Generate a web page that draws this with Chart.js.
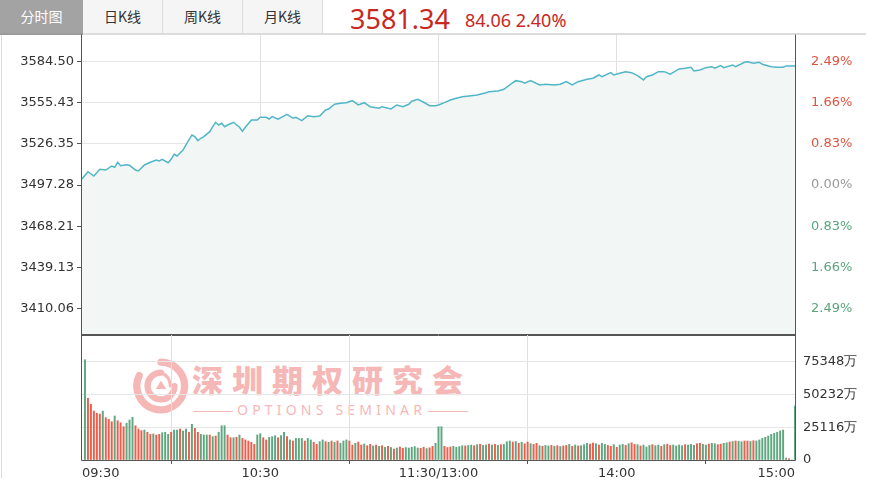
<!DOCTYPE html>
<html><head><meta charset="utf-8">
<script src="https://cdn.jsdelivr.net/npm/chart.js@4.4.1/dist/chart.umd.min.js"></script>
<style>
html,body{margin:0;padding:0;background:#fff;}
body{width:879px;height:500px;position:relative;overflow:hidden;font-family:"DejaVu Sans",sans-serif;}
.tab{position:absolute;top:0;height:33px;line-height:33px;text-align:center;font-family:"Noto Sans CJK SC",sans-serif;font-size:14px;color:#333;background:#f5f5f5;border-right:1px solid #dcdcdc;box-sizing:border-box;}
.tab.active{background:#a3a3a3;color:#fff;border-right:none;}
#bar{position:absolute;left:0;top:33px;width:866px;height:2px;background:#dcdcdc;}
#bar2{position:absolute;left:0;top:33px;width:83px;height:2px;background:#9a9a9a;}
#frame{position:absolute;left:1px;top:35px;width:1px;height:443px;background:#dcdcdc;}
#price{position:absolute;left:350px;top:0px;font-family:"Noto Sans",sans-serif;font-size:27px;line-height:38px;color:#c8281e;}
#chg{position:absolute;left:465px;top:7px;font-family:"Noto Sans",sans-serif;font-size:18px;line-height:26px;color:#c8281e;}
canvas{position:absolute;left:0;}
#cp{top:25px;z-index:2;}
#cv{top:325px;z-index:2;}
#wm{position:absolute;left:0;top:0;z-index:1;}
#wmT{position:absolute;left:192px;top:361px;font-family:"Noto Sans CJK SC",sans-serif;font-weight:900;font-size:31px;letter-spacing:9px;color:#f6b7b7;white-space:nowrap;line-height:36px;}
#wmS{position:absolute;left:193px;top:401px;font-family:"Noto Sans",sans-serif;font-size:14px;letter-spacing:4.2px;color:#f6b7b7;white-space:nowrap;line-height:18px;}
#wmS span.l{display:inline-block;width:40px;height:1.5px;background:#f6b7b7;vertical-align:middle;margin:0 4px 0 0;}
#wmS span.r{display:inline-block;width:40px;height:1.5px;background:#f6b7b7;vertical-align:middle;margin:0 0 0 2px;}
#logo{position:absolute;left:133px;top:358px;}
</style></head>
<body>
<div class="tab active" style="left:0;width:83px;">分时图</div>
<div class="tab" style="left:83px;width:80px;">日K线</div>
<div class="tab" style="left:163px;width:80px;">周K线</div>
<div class="tab" style="left:243px;width:80px;">月K线</div>
<div id="bar"></div><div id="bar2"></div><div id="frame"></div>
<div id="price"></div>
<div id="chg"></div>
<div id="wm">
<svg id="logo" width="56" height="56" viewBox="0 0 54 54">
  <g fill="none" stroke="#f6b7b7" stroke-linecap="round">
    <path d="M 27 4 A 23 23 0 1 1 6 17" stroke-width="7"/>
    <path d="M 40 27 A 13 13 0 1 1 27 14" stroke-width="6"/>
    <path d="M 27 14 Q 36 18 36 27" stroke-width="3"/>
  </g>
  <path d="M 27 22 L 32 30 L 22 30 Z" fill="#f6b7b7"/>
</svg>
<div id="wmT">深圳期权研究会</div>
<div id="wmS"><span class="l"></span>OPTIONS SEMINAR<span class="r"></span></div>
</div>
<canvas id="cp" width="879" height="320"></canvas>
<canvas id="cv" width="879" height="160"></canvas>
<script>
const prevClose = 3497.28;
const lastPrice = 3581.34;
const change = 84.06;
const changePct = '2.40%';

const timeTickMinutes = [0, 60, 120, 180, 240];
const timeLabels = ['09:30', '10:30', '11:30/13:00', '14:00', '15:00'];

const priceTicks = [3410.06, 3439.13, 3468.21, 3497.28, 3526.35, 3555.43, 3584.50];
const pctLabels = ['2.49%', '1.66%', '0.83%', '0.00%', '0.83%', '1.66%', '2.49%'];

const priceMinutes = [0,2,4,6,8,10,11,12,13,15,16,18,19,21,23,25,26,27,29,30,31,32,34,35,36,37,38,39,40,41,43,44,45,46,47,48,49,51,53,54,55,57,59,60,62,63,64,66,69,71,72,74,76,78,80,82,83,85,87,89,91,93,95,97,100,101,104,106,108,110,111,113,115,117,119,120,122,124,126,128,131,133,136,137,140,142,144,146,148,149,151,154,156,159,161,163,165,167,170,172,174,175,178,179,181,183,185,187,189,190,192,194,196,198,201,203,205,206,208,210,212,213,215,216,219,220,223,224,226,228,229,232,234,236,237,239,240];
const prices = [3501.50,3506.67,3503.64,3508.37,3507.87,3510.70,3509.78,3513.31,3510.91,3511.62,3511.19,3507.87,3507.17,3511.40,3513.31,3514.94,3514.23,3515.43,3513.03,3515.43,3518.96,3517.76,3522.00,3525.53,3529.06,3532.59,3531.39,3528.56,3530.26,3531.39,3534.92,3538.45,3541.56,3539.65,3540.85,3538.45,3539.65,3541.56,3538.03,3535.20,3538.03,3543.18,3543.18,3545.09,3545.09,3543.89,3545.51,3543.68,3547.21,3544.38,3545.09,3542.69,3546.22,3545.51,3546.01,3550.25,3550.95,3554.27,3554.98,3555.40,3556.81,3553.78,3555.40,3552.57,3551.45,3552.57,3550.95,3553.78,3552.57,3554.27,3556.39,3557.80,3555.68,3553.28,3553.28,3553.80,3555.40,3557.31,3558.51,3559.64,3560.34,3560.84,3562.46,3563.17,3563.66,3564.86,3567.90,3570.94,3570.23,3569.10,3570.94,3567.90,3568.39,3567.90,3568.39,3570.23,3567.90,3570.23,3571.93,3572.63,3574.96,3573.76,3576.59,3574.96,3576.16,3577.29,3576.59,3574.47,3571.43,3573.76,3574.96,3577.29,3577.29,3575.46,3579.20,3579.69,3580.40,3577.79,3578.49,3580.12,3580.82,3579.69,3581.53,3580.12,3582.02,3580.82,3583.93,3584.35,3583.22,3583.93,3582.52,3580.82,3580.40,3580.40,3581.34,3581.34,3581.34];

const volTicks = [0, 25116, 50232, 75348];
const volumes = [
77000,47400,42800,37600,35900,35300,37600,32500,31200,29400,
33800,30200,28600,25600,28200,30700,32800,26300,23800,22500,
23000,21300,19700,20000,19200,19700,21000,21300,19700,21300,
23000,23000,23800,22300,23800,21300,27400,24300,21300,19700,
19200,19200,19200,17900,18400,21300,26300,26300,19200,17100,
17100,17400,19200,16600,15400,14600,13600,12000,19200,20200,
17100,15400,17400,17900,18700,17100,18700,21300,17900,15400,
14600,16600,16600,16600,14600,16600,15400,13600,12000,14100,
15400,14100,13600,14600,13600,14600,12800,14600,15400,14600,
11500,12800,13800,11500,12300,11000,12000,10800,11500,10500,
11000,9800,10500,9600,8400,9200,10000,9000,9600,9200,
9800,10300,9200,9000,9800,8800,9400,10500,12800,25600,
25600,10500,9600,10000,10500,9800,10300,11000,10800,11200,
11500,11000,11800,12000,11200,11500,12300,11500,12000,11200,
11800,12000,14000,14600,13800,14200,12800,13600,12500,13800,
12500,12000,12800,11000,10500,11200,10800,11200,10600,11000,
10400,10800,11200,12000,10500,11500,10800,11000,11800,12800,
12200,13000,12500,11500,12800,12000,11200,10500,11800,9800,
11500,12000,11200,12500,13200,12000,11800,10800,11500,10000,
11200,11800,11000,11500,10500,11800,12200,11200,11500,10800,
11500,11000,11800,11500,12000,11200,12500,12800,12000,11500,
12300,12800,12500,11800,12200,12800,13200,13800,14200,14600,
14400,14000,14600,14600,14200,14800,14600,15400,16600,17400,
18400,19700,20500,21300,22300,23000,1500,1000,0,41500];
// 1 = minute closed up (red), 0 = down (green)
const volUp = [
0,1,1,1,1,1,0,1,1,1, 0,1,1,1,0,0,0,1,1,1, 0,1,1,0,1,1,0,0,0,1, 0,0,1,0,0,1,0,1,1,0,
0,0,1,0,1,0,0,0,1,1, 0,1,0,1,1,1,1,1,0,0, 1,1,0,0,0,1,0,0,1,0, 1,0,0,0,1,0,0,1,1,0,
0,1,0,1,0,1,0,0,0,1, 1,0,1,1,0,1,1,0,1,0, 1,0,1,0,1,0,1,1,0,0, 0,0,0,1,1,0,1,1,0,0,
0,1,1,1,0,0,0,0,1,0, 0,1,0,1,0,0,1,0,1,0, 1,0,0,0,1,0,1,0,1,1, 0,1,1,0,1,0,0,1,0,1,
0,1,1,0,1,0,1,0,0,0, 1,1,0,1,0,0,1,1,0,1, 0,0,1,0,1,1,0,1,0,0, 0,1,0,0,1,0,1,1,0,0,
0,0,1,0,0,0,1,1,0,0, 1,0,0,1,1,0,0,1,0,1, 0,0,1,1,0,1,0,0,0,0, 0,0,0,0,0,0,0,1,0,0];

document.getElementById('price').textContent = lastPrice.toFixed(2);
document.getElementById('chg').textContent = change.toFixed(2) + ' ' + changePct;

const FONT = {family: 'DejaVu Sans', size: 13};
const GRID = '#e6e6e6';
const VGRID = '#e0e0e0';
const CLEAR = 'rgba(0,0,0,0)';
const span = 105.9;

function noPad(s) { s.paddingTop = 0; s.paddingBottom = 0; s.paddingLeft = 0; s.paddingRight = 0; }
const fitW = w => s => { s.width = w; noPad(s); };
const fitH = h => s => { s.height = h; noPad(s); };

const makeFrame = (drawTop) => ({
  id: 'frame',
  afterDatasetsDraw(chart) {
    const {ctx, chartArea: a} = chart;
    const l = Math.round(a.left) - 0.5, r = Math.round(a.right) + 0.5;
    const t = Math.round(a.top) - 0.5, b = Math.round(a.bottom) + 0.5;
    ctx.save();
    ctx.strokeStyle = '#555';
    ctx.lineWidth = 1;
    ctx.beginPath();
    ctx.moveTo(l, t); ctx.lineTo(l, b); ctx.lineTo(r, b); ctx.lineTo(r, t);
    if (drawTop) ctx.lineTo(l, t);
    ctx.stroke();
    ctx.restore();
  }
});
const baseLinePlugin = {
  id: 'baseLine',
  beforeDatasetsDraw(chart) {
    const {ctx, chartArea: a} = chart;
    const y = Math.round(chart.scales.y.getPixelForValue(prevClose)) + 0.5;
    ctx.save();
    ctx.strokeStyle = '#a8a8a8';
    ctx.lineWidth = 1;
    ctx.setLineDash([5, 4]);
    ctx.beginPath(); ctx.moveTo(a.left, y); ctx.lineTo(a.right, y); ctx.stroke();
    ctx.restore();
  }
};
const isEdge = v => v === 0 || v === 240;

new Chart(document.getElementById('cp'), {
  type: 'line',
  data: {datasets: [{
    data: priceMinutes.map((m, i) => ({x: m, y: prices[i]})),
    borderColor: '#52b6c9', borderWidth: 1.5, backgroundColor: '#f2f7f5',
    fill: 'start', pointRadius: 0, tension: 0
  }]},
  options: {
    responsive: false, animation: false, events: [],
    layout: {padding: {top: 10, bottom: 10, left: 0, right: 0}},
    plugins: {legend: {display: false}, tooltip: {enabled: false}},
    scales: {
      x: {type: 'linear', min: 0, max: 240,
        afterBuildTicks: s => { s.ticks = timeTickMinutes.map(v => ({value: v})); },
        ticks: {display: false},
        grid: {color: c => (c.tick && isEdge(c.tick.value)) ? CLEAR : VGRID, drawTicks: false},
        border: {display: false},
        afterFit: fitH(0)},
      y: {position: 'left', min: prevClose - span, max: prevClose + span,
        afterBuildTicks: s => { s.ticks = priceTicks.map(v => ({value: v})); },
        ticks: {callback: v => Number(v).toFixed(2), color: '#333', font: FONT, padding: 3},
        grid: {color: c => (c.tick && c.tick.value === prevClose) ? CLEAR : GRID, tickColor: '#555', tickLength: 5},
        border: {display: false},
        afterFit: fitW(82)},
      yPct: {position: 'right', min: prevClose - span, max: prevClose + span,
        afterBuildTicks: s => { s.ticks = priceTicks.map(v => ({value: v})); },
        ticks: {callback: (v, i) => pctLabels[i], font: FONT, padding: 8,
          color: c => c.tick.value > prevClose ? '#e0533f' : (c.tick.value < prevClose ? '#5aa57c' : '#9a9a9a')},
        grid: {display: false},
        border: {display: false},
        afterFit: fitW(84)}
    }
  },
  plugins: [baseLinePlugin, makeFrame(false)]
});

new Chart(document.getElementById('cv'), {
  type: 'bar',
  data: {datasets: [{
    data: volumes.map((v, i) => ({x: i + 1, y: v})),
    backgroundColor: volUp.map(u => u ? '#ea5f4d' : '#5fa781'),
    barThickness: 1.3
  }]},
  options: {
    responsive: false, animation: false, events: [],
    layout: {padding: {top: 10, bottom: 5, left: 82, right: 0}},
    plugins: {legend: {display: false}, tooltip: {enabled: false}},
    scales: {
      x: {type: 'linear', min: 0, max: 240, offset: false,
        afterBuildTicks: s => { s.ticks = timeTickMinutes.map(v => ({value: v})); },
        ticks: {callback: (v, i) => timeLabels[i], align: 'inner', autoSkip: false, maxRotation: 0, color: '#333', font: FONT, padding: 2},
        grid: {color: c => (c.tick && isEdge(c.tick.value)) ? CLEAR : VGRID, tickColor: '#555', tickLength: 4},
        border: {display: false},
        afterFit: fitH(20)},
      y: {position: 'right', min: 0, max: 96000,
        afterBuildTicks: s => { s.ticks = volTicks.map(v => ({value: v})); },
        ticks: {callback: v => v === 0 ? '0' : v + '万', color: '#333', font: FONT, padding: 8},
        grid: {color: c => (c.tick && c.tick.value === 0) ? CLEAR : GRID, drawTicks: false},
        border: {display: false},
        afterFit: fitW(84)}
    }
  },
  plugins: [makeFrame(true)]
});
</script>
</body></html>
